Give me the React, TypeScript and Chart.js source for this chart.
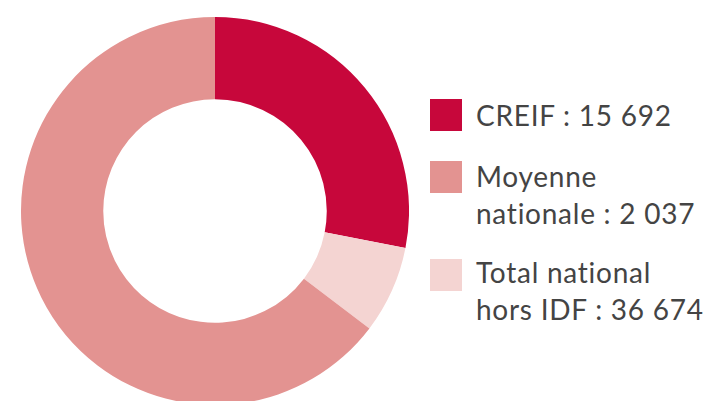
import React, { useEffect, useRef } from "react";
import { Chart, registerables } from "chart.js";

Chart.register(...registerables);

// Slices in drawing order (clockwise from top), shares (%)
const sliceLabels = ["CREIF", "Total national hors IDF", "Moyenne nationale"];
const sliceShares = [28.05, 7.3, 64.65];
const sliceColors = ["#C7073B", "#F4D4D2", "#E39391"];

// Legend entries (as printed), in legend order
const legendLines = [
  ["CREIF : 15 692"],
  ["Moyenne", "nationale : 2 037"],
  ["Total national", "hors IDF : 36 674"],
];
const legendColors = ["#C7073B", "#E39391", "#F4D4D2"];
const legendTops = [97, 158, 254];

export default function App() {
  const canvasRef = useRef<HTMLCanvasElement | null>(null);

  useEffect(() => {
    if (!canvasRef.current) return;
    const chart = new Chart(canvasRef.current, {
      type: "doughnut",
      data: {
        labels: sliceLabels,
        datasets: [
          {
            data: sliceShares,
            backgroundColor: sliceColors,
            borderWidth: 0,
            hoverOffset: 0,
          },
        ],
      },
      options: {
        responsive: false,
        animation: false,
        cutout: "57.6%",
        layout: { padding: 0 },
        plugins: {
          legend: { display: false },
          tooltip: { enabled: false },
        },
      },
    });
    return () => chart.destroy();
  }, []);

  return (
    <div
      style={{
        position: "absolute",
        left: 0,
        top: 0,
        width: 708,
        height: 401,
        overflow: "hidden",
        background: "#ffffff",
      }}
    >
      <canvas
        ref={canvasRef}
        width={388}
        height={388}
        style={{ position: "absolute", left: 21, top: 17, width: 388, height: 388 }}
      />
      {legendLines.map((lines, i) => (
        <div key={i}>
          <div
            style={{
              position: "absolute",
              left: 430,
              top: [99, 161, 259][i],
              width: 32,
              height: 32,
              background: legendColors[i],
            }}
          />
          <div
            style={{
              position: "absolute",
              left: 476,
              top: legendTops[i],
              fontFamily: "Lato, 'Open Sans', sans-serif",
              fontSize: 28,
              lineHeight: "37px",
              letterSpacing: "0.75px",
              color: "#444444",
              whiteSpace: "nowrap",
            }}
          >
            {lines.map((l, j) => (
              <div key={j}>{l}</div>
            ))}
          </div>
        </div>
      ))}
    </div>
  );
}
